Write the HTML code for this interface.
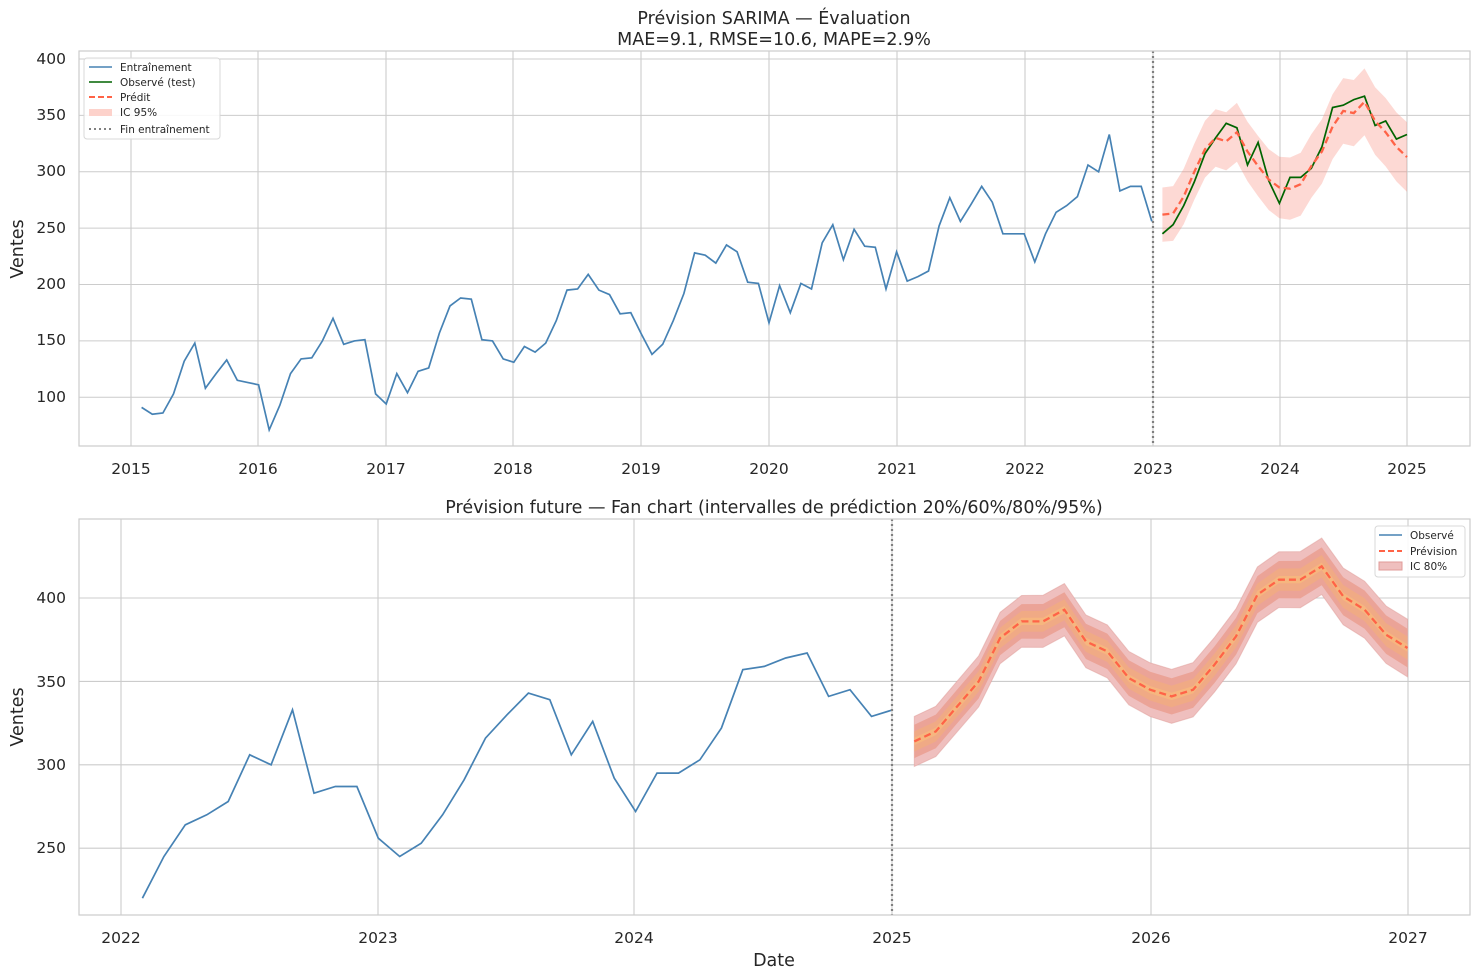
<!DOCTYPE html>
<html><head><meta charset="utf-8"><style>
body{margin:0;background:#fff}
svg{display:block;font-family:"DejaVu Sans","Liberation Sans",sans-serif}
.t{font-size:17.5px;fill:#262626}
.tk{font-size:15.5px;fill:#262626}
.lg{font-size:10.5px;fill:#262626}
.g{stroke:#cccccc;stroke-width:1.1}
</style></head><body>
<svg id="s" width="1480" height="980" viewBox="0 0 1480 980">
<g id="grid"></g>
<g id="data"></g>
<rect x="79" y="51" width="1391" height="395" fill="none" stroke="#cccccc" stroke-width="1.2"/>
<rect x="79" y="519" width="1391" height="396" fill="none" stroke="#cccccc" stroke-width="1.2"/>
<text class="t" x="774" y="24" text-anchor="middle">Prévision SARIMA — Évaluation</text>
<text class="t" x="774" y="45" text-anchor="middle">MAE=9.1, RMSE=10.6, MAPE=2.9%</text>
<text class="t" x="774" y="513" text-anchor="middle">Prévision future — Fan chart (intervalles de prédiction 20%/60%/80%/95%)</text>
<text class="t" x="23" y="249" text-anchor="middle" transform="rotate(-90 23 249)">Ventes</text>
<text class="t" x="23" y="717" text-anchor="middle" transform="rotate(-90 23 717)">Ventes</text>
<text class="t" x="774" y="966" text-anchor="middle">Date</text>
<g class="tk" text-anchor="end">
<text x="66" y="64">400</text><text x="66" y="120">350</text><text x="66" y="176">300</text><text x="66" y="233">250</text><text x="66" y="289">200</text><text x="66" y="345">150</text><text x="66" y="402">100</text>
<text x="66" y="603">400</text><text x="66" y="687">350</text><text x="66" y="770">300</text><text x="66" y="853">250</text>
</g>
<g class="tk" text-anchor="middle">
<text x="131" y="474">2015</text><text x="258" y="474">2016</text><text x="386" y="474">2017</text><text x="513" y="474">2018</text><text x="641" y="474">2019</text><text x="769" y="474">2020</text><text x="897" y="474">2021</text><text x="1025" y="474">2022</text><text x="1153" y="474">2023</text><text x="1280" y="474">2024</text><text x="1407" y="474">2025</text>
<text x="121" y="943">2022</text><text x="378" y="943">2023</text><text x="634" y="943">2024</text><text x="892" y="943">2025</text><text x="1151" y="943">2026</text><text x="1408" y="943">2027</text>
</g>
<g id="leg1">
<rect x="84" y="58" width="136" height="81" rx="3" fill="#fff" fill-opacity="0.85" stroke="#d8d8d8"/>
<line x1="89" y1="67" x2="112" y2="67" stroke="#4682b4" stroke-width="1.6"/>
<line x1="89" y1="82" x2="112" y2="82" stroke="#006400" stroke-width="1.6"/>
<line x1="89" y1="97" x2="112" y2="97" stroke="#ff6347" stroke-width="2" stroke-dasharray="6,3"/>
<rect x="89" y="109" width="23" height="7" fill="#fdd2cb"/>
<line x1="89" y1="129" x2="112" y2="129" stroke="#808080" stroke-width="2" stroke-dasharray="2,3"/>
<text class="lg" x="120" y="71">Entraînement</text>
<text class="lg" x="120" y="86">Observé (test)</text>
<text class="lg" x="120" y="101">Prédit</text>
<text class="lg" x="120" y="116">IC 95%</text>
<text class="lg" x="120" y="133">Fin entraînement</text>
</g>
<g id="leg2">
<rect x="1375" y="526" width="90" height="51" rx="3" fill="#fff" fill-opacity="0.85" stroke="#d8d8d8"/>
<line x1="1379" y1="535" x2="1402" y2="535" stroke="#4682b4" stroke-width="1.6"/>
<line x1="1379" y1="551" x2="1402" y2="551" stroke="#ff6347" stroke-width="2" stroke-dasharray="6,3"/>
<rect x="1379" y="562" width="23" height="8" fill="#efbfbe" stroke="#e09b98"/>
<text class="lg" x="1410" y="539">Observé</text>
<text class="lg" x="1410" y="555">Prévision</text>
<text class="lg" x="1410" y="570">IC 80%</text>
</g>
</svg>
<script>
const NS="http://www.w3.org/2000/svg";
function el(p,t,a){const e=document.createElementNS(NS,t);for(const k in a)e.setAttribute(k,a[k]);p.appendChild(e);return e;}
const grid=document.getElementById('grid'),data=document.getElementById('data');
const tx=i=>131+(i+1)*127.6/12, ty=v=>59+(400-v)*1.1275;
const bx=i=>121+(i+1)*257.3/12, by=v=>598+(400-v)*1.668;
[131,258,386,513,641,769,897,1025,1153,1280,1407].forEach(x=>el(grid,'line',{x1:x,x2:x,y1:51,y2:446,class:'g'}));
[400,350,300,250,200,150,100].forEach(v=>el(grid,'line',{x1:79,x2:1470,y1:ty(v),y2:ty(v),class:'g'}));
[121,378,634,892,1151,1408].forEach(x=>el(grid,'line',{x1:x,x2:x,y1:519,y2:915,class:'g'}));
[400,350,300,250].forEach(v=>el(grid,'line',{x1:79,x2:1470,y1:by(v),y2:by(v),class:'g'}));
const train=[91,85,86,103,132,148,108,121,133,115,113,111,
71,93,121,134,135,150,170,147,150,151,103,94,
121,104,123,126,157,181,188,187,151,150,134,131,
145,140,148,168,195,196,209,195,191,174,175,156,
138,147,168,192,228,226,219,235,229,202,201,166,
199,175,201,196,237,253,222,249,234,233,196,229,
203,207,212,252,277,256,271,287,273,245,245,245,
220,245,264,270,278,306,300,333,283,287,287,256];
const test=[245,253,270,291,316,330,343,339,306,326,292,272,295,295,303,322,357,359,364,367,341,345,329,333];
const pred=[262,263,278,300,320,330,327,335,318,305,293,286,285,289,305,318,340,354,352,362,345,335,322,313];
const fut=[314,320,335,350,376,386,386,393,374,368,352,345,341,345,360,377,402,411,411,419,401,393,378,370];
const pts=(arr,fx,fy,off)=>arr.map((v,i)=>fx(i+off).toFixed(1)+','+fy(v).toFixed(1)).join(' ');
function band(arr,w,fx,fy,off,fill,op,stroke){
 const up=arr.map((v,i)=>[fx(i+off),fy(v+w(i))]),lo=arr.map((v,i)=>[fx(i+off),fy(v-w(i))]).reverse();
 el(data,'polygon',{points:up.concat(lo).map(p=>p[0].toFixed(1)+','+p[1].toFixed(1)).join(' '),fill:fill,'fill-opacity':op,stroke:stroke||'none','stroke-opacity':0.5});
}
band(pred,i=>24+i*0.3,tx,ty,96,'#fa8072',0.3);
el(data,'polyline',{points:pts(train,tx,ty,0),fill:'none',stroke:'#4682b4','stroke-width':1.7});
el(data,'polyline',{points:pts(test,tx,ty,96),fill:'none',stroke:'#006400','stroke-width':1.7});
el(data,'polyline',{points:pts(pred,tx,ty,96),fill:'none',stroke:'#ff6347','stroke-width':2.3,'stroke-dasharray':'7,4'});
el(data,'line',{x1:1153,x2:1153,y1:51,y2:446,stroke:'#808080','stroke-width':2.2,'stroke-dasharray':'2,3'});
const obs=train.slice(84).concat(test);
el(data,'polyline',{points:pts(obs,bx,by,0),fill:'none',stroke:'#4682b4','stroke-width':1.7});
band(fut,i=>15+i*0.1,bx,by,36,'#efbfbe',1,'#e09b98');
band(fut,i=>10+i*0.07,bx,by,36,'#eba397',1);
band(fut,i=>6+i*0.04,bx,by,36,'#f0aa85',1);
band(fut,i=>2.2,bx,by,36,'#f6b67f',1);
el(data,'polyline',{points:pts(fut,bx,by,36),fill:'none',stroke:'#ff6347','stroke-width':2.3,'stroke-dasharray':'7,4'});
el(data,'line',{x1:892,x2:892,y1:519,y2:915,stroke:'#808080','stroke-width':2.2,'stroke-dasharray':'2,3'});
</script>
</body></html>
